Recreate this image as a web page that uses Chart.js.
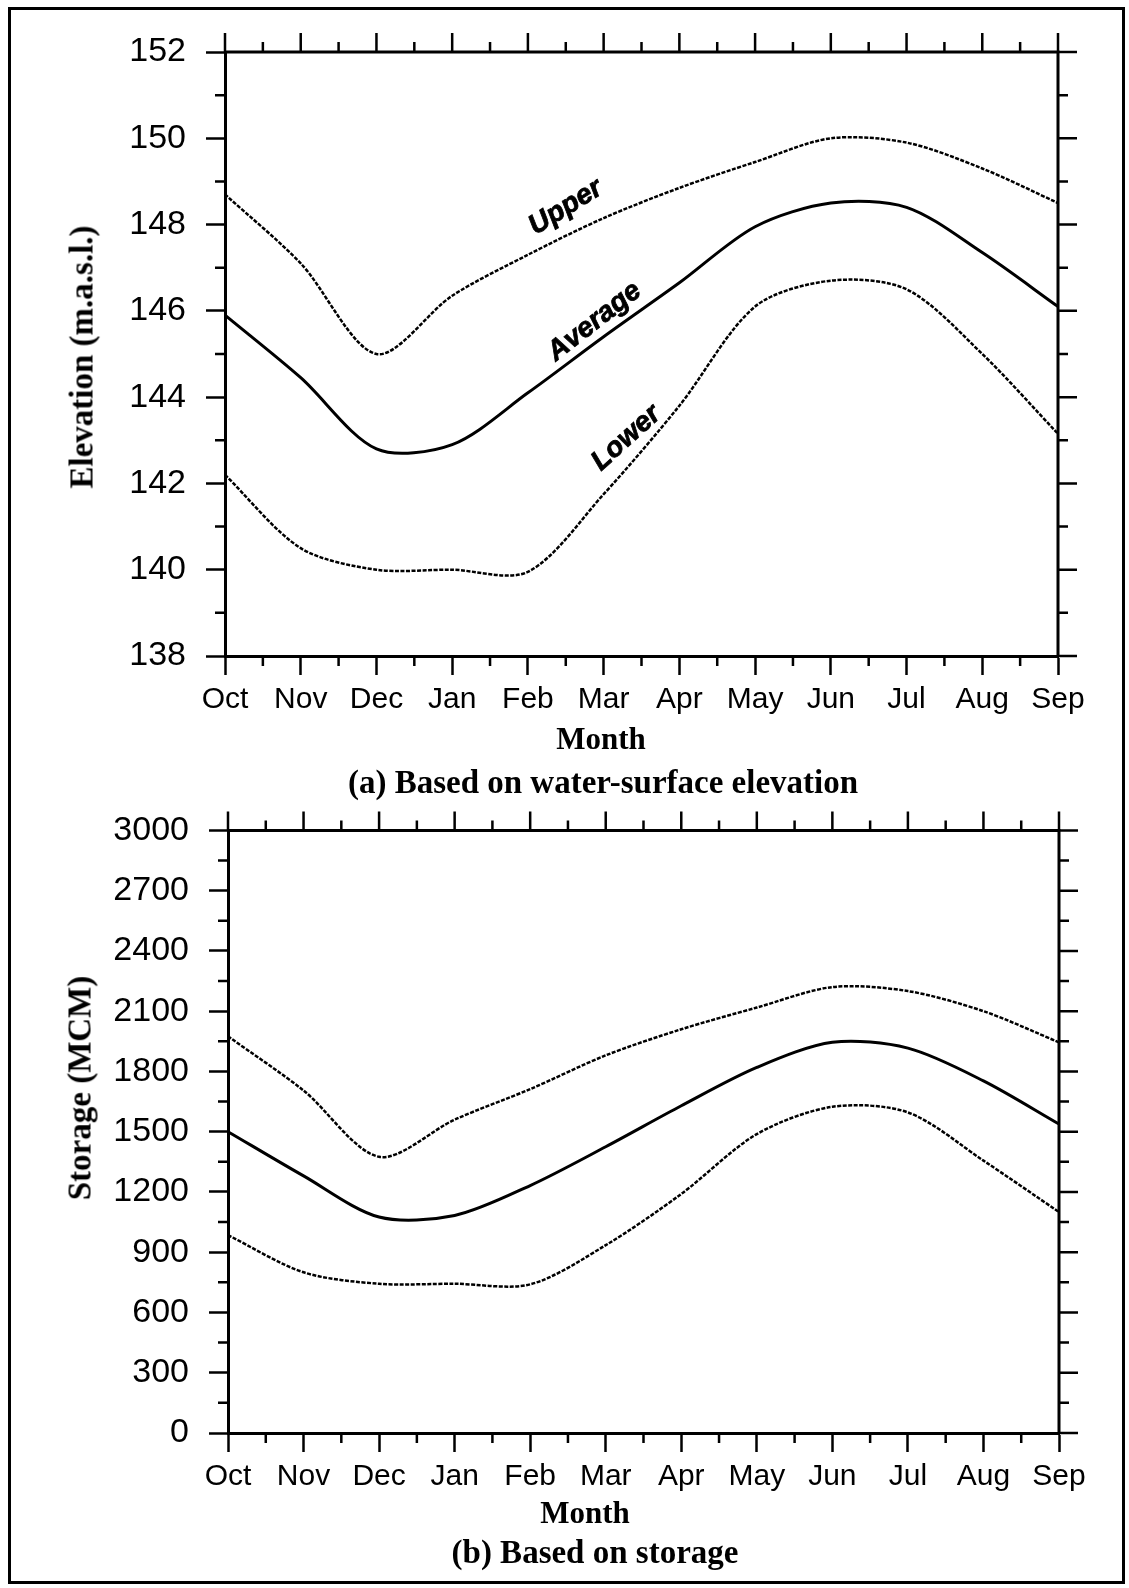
<!DOCTYPE html>
<html>
<head>
<meta charset="utf-8">
<script src="https://cdn.jsdelivr.net/npm/chart.js@4.4.0/dist/chart.umd.min.js"></script>
<style>
body { margin: 0; background: #fff; }
#page { position: relative; width: 1129px; height: 1588px; overflow: hidden; background: #fff; }
canvas { position: absolute; left: 0; }
.frame { position: absolute; left: 8px; top: 7px; width: 1111px; height: 1571px; border: 3px solid #000; pointer-events: none; }
.txt { position: absolute; font-family: "Liberation Serif", "Times New Roman", serif; font-weight: bold; color: #000; white-space: nowrap; line-height: 1; }
.ytitle { transform: translate(-50%, -50%) rotate(-90deg); font-size: 33px; }
.ctr { transform: translateX(-50%); }
</style>
</head>
<body>
<div id="page">
  <canvas id="elevChart" width="1129" height="790" style="top:0"></canvas>
  <canvas id="storChart" width="1129" height="798" style="top:790px"></canvas>

  <div class="txt ytitle" style="left:82px; top:357px">Elevation (m.a.s.l.)</div>
  <div class="txt ctr" style="left:601px; top:723px; font-size:31px">Month</div>
  <div class="txt ctr" style="left:603px; top:766px; font-size:33px">(a) Based on water-surface elevation</div>

  <div class="txt ytitle" style="left:80px; top:1088px">Storage (MCM)</div>
  <div class="txt ctr" style="left:585px; top:1497px; font-size:31px">Month</div>
  <div class="txt ctr" style="left:595px; top:1536px; font-size:33px">(b) Based on storage</div>

  <div class="frame"></div>
</div>
<script>
const months = ['Oct', 'Nov', 'Dec', 'Jan', 'Feb', 'Mar', 'Apr', 'May', 'Jun', 'Jul', 'Aug', 'Sep'];

// (a) water-surface elevation, m.a.s.l.
const elevUpper   = [148.7, 147.1, 145.0, 146.35, 147.3, 148.15, 148.85, 149.45, 150.0, 149.9, 149.3, 148.5];
const elevAverage = [145.9, 144.45, 142.8, 142.9, 144.1, 145.4, 146.65, 147.95, 148.5, 148.4, 147.35, 146.1];
const elevLower   = [142.2, 140.5, 140.0, 140.0, 139.95, 141.75, 143.8, 146.1, 146.7, 146.5, 145.0, 143.15];

// (b) storage, MCM
const storUpper   = [1975, 1705, 1375, 1560, 1712, 1880, 2010, 2118, 2220, 2200, 2100, 1945];
const storAverage = [1500, 1280, 1075, 1083, 1232, 1425, 1629, 1820, 1945, 1916, 1753, 1538];
const storLower   = [985, 800, 743, 743, 740, 935, 1190, 1488, 1624, 1596, 1356, 1100];

// curve names written along the lines in (a)
const curveNames = [
    { text: 'Upper',   x: 4.5,  y: 148.4, angle: -32 },
    { text: 'Average', x: 4.88, y: 145.75, angle: -38 },
    { text: 'Lower',   x: 5.3,  y: 143.05, angle: -42 }
];

const MAJOR = 19;
const MINOR = 10;

// closes the box, adds mirrored / minor ticks and the curve names
const boxTicks = {
    id: 'boxTicks',
    afterDraw(chart) {
        const {ctx, chartArea: a, scales: {x, y}} = chart;
        ctx.save();
        ctx.strokeStyle = '#000';
        ctx.lineWidth = 3;
        ctx.beginPath();
        ctx.moveTo(a.left, a.top);
        ctx.lineTo(a.right, a.top);
        ctx.lineTo(a.right, a.bottom);
        ctx.stroke();

        ctx.lineWidth = 2.5;
        ctx.beginPath();
        for (let i = 0; i < months.length; i++) {
            const px = x.getPixelForValue(i);
            ctx.moveTo(px, a.top);
            ctx.lineTo(px, a.top - MAJOR);
            if (i < months.length - 1) {
                const mx = x.getPixelForValue(i + 0.5);
                ctx.moveTo(mx, a.top);
                ctx.lineTo(mx, a.top - MINOR);
                ctx.moveTo(mx, a.bottom);
                ctx.lineTo(mx, a.bottom + MINOR);
            }
        }
        const step = y.options.ticks.stepSize;
        for (let v = y.min; v <= y.max + 1e-9; v += step) {
            const py = y.getPixelForValue(v);
            ctx.moveTo(a.right, py);
            ctx.lineTo(a.right + MAJOR, py);
            if (v + step <= y.max + 1e-9) {
                const my = y.getPixelForValue(v + step / 2);
                ctx.moveTo(a.right, my);
                ctx.lineTo(a.right + MINOR, my);
                ctx.moveTo(a.left, my);
                ctx.lineTo(a.left - MINOR, my);
            }
        }
        ctx.stroke();

        const names = chart.options.plugins.boxTicks.names || [];
        ctx.fillStyle = '#000';
        ctx.strokeStyle = '#000';
        ctx.lineWidth = 0.8;
        ctx.font = 'italic bold 28px "Liberation Sans", Arial, sans-serif';
        ctx.textAlign = 'center';
        ctx.textBaseline = 'middle';
        names.forEach(n => {
            ctx.save();
            ctx.translate(x.getPixelForValue(n.x), y.getPixelForValue(n.y));
            ctx.rotate(n.angle * Math.PI / 180);
            ctx.fillText(n.text, 0, 0);
            ctx.strokeText(n.text, 0, 0);
            ctx.restore();
        });
        ctx.restore();
    }
};

function lineSet(data, dashed) {
    return {
        data: data,
        borderColor: '#000',
        borderWidth: dashed ? 2.5 : 3,
        borderDash: dashed ? [4, 1.5] : [],
        pointRadius: 0,
        fill: false,
        tension: 0.3
    };
}

function makeChart(id, series, opt) {
    return new Chart(document.getElementById(id).getContext('2d'), {
        type: 'line',
        data: {
            labels: months,
            datasets: series.map((s, i) => lineSet(s, i !== 1))
        },
        options: {
            responsive: false,
            animation: false,
            devicePixelRatio: 1,
            layout: { padding: { top: opt.top, right: opt.right, left: 0, bottom: 0 } },
            plugins: {
                legend: { display: false },
                tooltip: { enabled: false },
                boxTicks: { names: opt.names || [] }
            },
            scales: {
                x: {
                    type: 'category',
                    offset: false,
                    afterFit: s => { s.height = opt.xh; },
                    grid: { drawOnChartArea: false, drawTicks: true, tickLength: MAJOR, tickWidth: 2.5, tickColor: '#000' },
                    border: { display: true, width: 3, color: '#000' },
                    ticks: {
                        autoSkip: false, maxRotation: 0, padding: 7, color: '#000',
                        font: { family: '"Liberation Sans", Arial, sans-serif', size: 30 }
                    }
                },
                y: {
                    min: opt.min, max: opt.max,
                    afterFit: s => { s.width = opt.left; },
                    grid: { drawOnChartArea: false, drawTicks: true, tickLength: MAJOR, tickWidth: 2.5, tickColor: '#000' },
                    border: { display: true, width: 3, color: '#000' },
                    ticks: {
                        stepSize: opt.step, padding: 20, color: '#000',
                        callback: v => String(v),
                        font: { family: '"Liberation Sans", Arial, sans-serif', size: 34 }
                    }
                }
            }
        },
        plugins: [boxTicks]
    });
}

makeChart('elevChart', [elevUpper, elevAverage, elevLower], {
    min: 138, max: 152, step: 2, left: 225, top: 52, right: 71, xh: 134, names: curveNames
});
makeChart('storChart', [storUpper, storAverage, storLower], {
    min: 0, max: 3000, step: 300, left: 228, top: 39, right: 70, xh: 155
});
</script>
</body>
</html>
